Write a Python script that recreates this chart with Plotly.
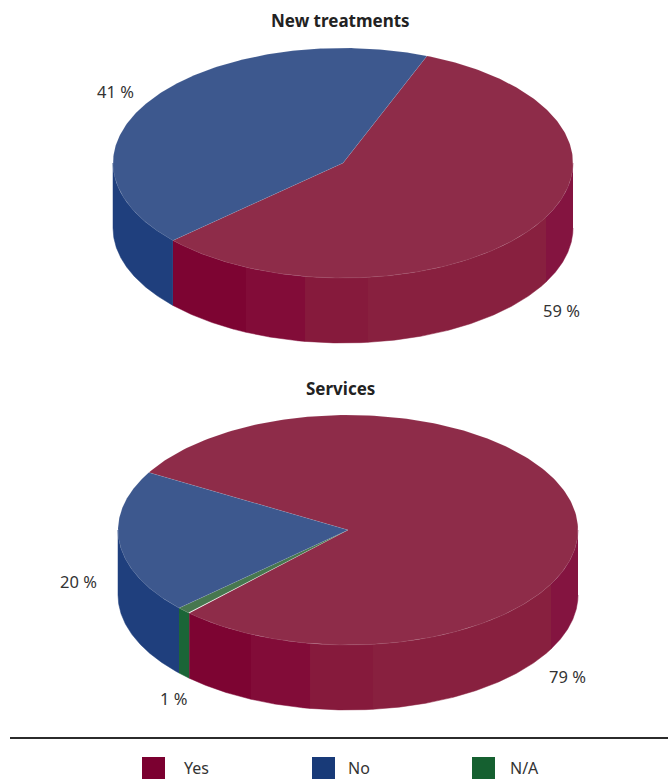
import numpy as np
import plotly.graph_objects as go

# Data
categories = ["Yes", "No", "N/A"]
chart_titles = ["New treatments", "Services"]
# Printed percentages
new_treatments_labels = ["59 %", "41 %"]
services_labels = ["79 %", "1 %", "20 %"]
new_treatments_cats = ["Yes", "No"]
new_treatments_shares = [57.3, 42.7]
services_cats = ["Yes", "N/A", "No"]
services_shares = [78.8, 1.0, 20.2]

# Style
TOP = {"Yes": "#8e2c49", "No": "#3d588e", "N/A": "#47774f"}
SIDE = {"Yes": "#7d0432", "No": "#1f3f7d", "N/A": "#1b6537"}
KEY = {"Yes": "#7b0030", "No": "#183a78", "N/A": "#156030"}
BAND_EDGES = [-97, -38, 25, 203]  # x offsets from the pie centre
BAND_COLORS = ["#7d0432", "#820c38", "#861a3c", "#88203f", "#841440"]
RX, RY, DEPTH = 230, 115, 65
FONT = "Noto Sans"
TEXT = "#333333"

fig = go.Figure()


def pt(cx, cy, deg):
    a = np.radians(deg)
    return cx + RX * np.sin(a), cy - RY * np.cos(a)


def poly(x, y, color, line=None, width=0):
    fig.add_trace(go.Scatter(
        x=x, y=y, mode="lines", fill="toself", fillcolor=color,
        line=dict(color=line or color, width=width if line else 0.5),
        hoverinfo="skip", showlegend=False))


def side(cx, cy, a, b, color):
    th = np.linspace(a, b, 120)
    x, y = pt(cx, cy, th)
    poly(np.r_[x, x[::-1]], np.r_[y, y[::-1] + DEPTH], color)


def pie(cx, cy, shares, cats, start):
    spans = []
    a = start
    for s, c in zip(shares, cats):
        b = a + s * 3.6
        spans.append((a, b, c))
        a = b
    # Side walls: only the front half (90..270 degrees clockwise from top) shows
    for a, b, c in spans:
        for k in (0, 360):
            lo, hi = max(a - k, 90), min(b - k, 270)
            if hi <= lo:
                continue
            if c == "Yes":
                # Shaded vertical bands, ordered right to left along the rim
                cuts = [180 - np.degrees(np.arcsin(o / RX)) for o in BAND_EDGES]
                edges = [90] + cuts[::-1] + [270]
                cols = BAND_COLORS[::-1]
                for e0, e1, col in zip(edges[:-1], edges[1:], cols):
                    l2, h2 = max(lo, e0), min(hi, e1)
                    if h2 > l2:
                        side(cx, cy, l2, h2, col)
            else:
                side(cx, cy, lo, hi, SIDE[c])
    # Top faces
    for a, b, c in spans:
        th = np.linspace(a, b, 240)
        x, y = pt(cx, cy, th)
        poly(np.r_[cx, x, cx], np.r_[cy, y, cy], TOP[c],
             line="rgba(255,255,255,0.12)", width=0.7)


pie(343, 163, new_treatments_shares, new_treatments_cats, 21.4)
pie(348, 530, services_shares, services_cats, 300)


def text(x, y, s, size=16.5, bold=False, color=TEXT):
    fig.add_annotation(x=x, y=y, text=f"<b>{s}</b>" if bold else s, showarrow=False,
                       xanchor="center", yanchor="middle",
                       font=dict(family=FONT, size=size, color=color))


text(340.5, 20.5, chart_titles[0], 17, True, "#222222")
text(340.5, 388.5, chart_titles[1], 17, True, "#222222")
text(561.5, 310, new_treatments_labels[0])
text(115.5, 91, new_treatments_labels[1])
text(567, 676, services_labels[0])
text(173, 698, services_labels[1])
text(78.5, 581, services_labels[2])

# Rule and key
fig.add_shape(type="line", x0=10, x1=668, y0=738, y1=738,
              line=dict(color="#2b2b2b", width=2))
for name, x0, lx in zip(categories, [142, 312, 472], [196, 359, 524]):
    fig.add_shape(type="rect", x0=x0, x1=x0 + 23, y0=757, y1=790,
                  fillcolor=KEY[name], line=dict(width=0))
    text(lx, 768, name, 16)

fig.update_layout(
    width=668, height=779, margin=dict(l=0, r=0, t=0, b=0),
    paper_bgcolor="white", plot_bgcolor="white", showlegend=False,
    xaxis=dict(range=[0, 668], visible=False, fixedrange=True),
    yaxis=dict(range=[779, 0], visible=False, fixedrange=True),
)
fig.write_html("out.html", config={"displayModeBar": False},
               post_script="document.body.style.margin='0';document.body.style.overflow='hidden';")
